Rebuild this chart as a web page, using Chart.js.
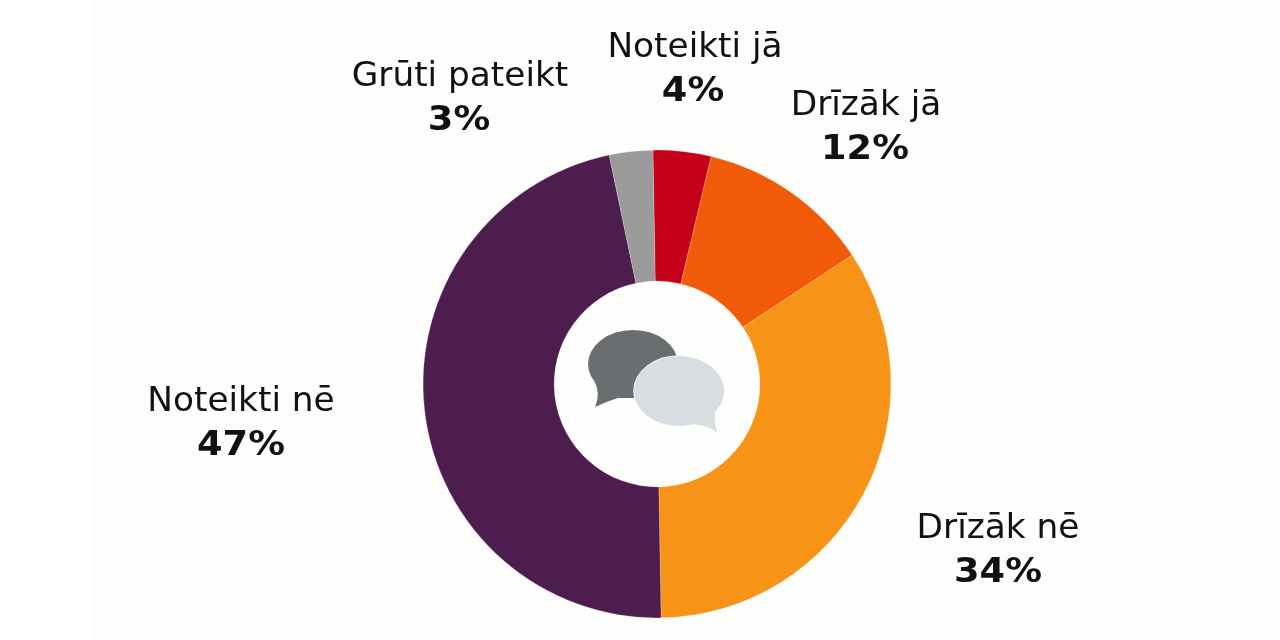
<!DOCTYPE html>
<html>
<head>
<meta charset="utf-8">
<style>
html,body{margin:0;padding:0;background:#fff;}
#wrap{position:relative;width:1280px;height:640px;overflow:hidden;}
#bg{position:absolute;left:93px;top:0;width:1187px;height:640px;background:#fdfdfb;}
canvas{position:absolute;left:0;top:0;filter:blur(0.5px);}
</style>
</head>
<body>
<div id="wrap">
  <div id="bg"></div>
  <canvas id="donut" width="1280" height="640"></canvas>
</div>
<script src="https://cdn.jsdelivr.net/npm/chart.js@4"></script>
<script>
var categories = ['Noteikti jā', 'Drīzāk jā', 'Drīzāk nē', 'Noteikti nē', 'Grūti pateikt'];
var shares = [4, 12, 34, 47, 3];
var sliceColors = ['#c50019', '#f15a08', '#f79316', '#4d1d4d', '#9b9b9b'];

// label centres, x of each line and baseline of the first line
var labelX = [695, 866, 998, 241, 460];
var percentX = [693, 865, 998, 241, 459];
var labelY = [57, 115, 538, 411, 86];

// source text is wider than DejaVu at this height, so stretch it a bit
function stretchedText(ctx, txt, x, y, sx){
  ctx.save();
  ctx.translate(x, y);
  ctx.scale(sx, 1);
  ctx.fillText(txt, 0, 0);
  ctx.restore();
}

var sliceLabels = {
  id: 'sliceLabels',
  afterDraw: function(chart){
    var ctx = chart.ctx;
    ctx.save();
    ctx.textAlign = 'center';
    ctx.textBaseline = 'alphabetic';
    ctx.fillStyle = '#111';
    for(var i = 0; i < categories.length; i++){
      ctx.font = '33px "DejaVu Sans"';
      stretchedText(ctx, categories[i], labelX[i], labelY[i], 1.04);
      ctx.font = 'bold 34px "DejaVu Sans"';
      stretchedText(ctx, shares[i] + '%', percentX[i], labelY[i] + 44, 1.08);
    }
    ctx.restore();
  }
};

// the two speech bubbles in the hole
var bubbles = {
  id: 'bubbles',
  afterDraw: function(chart){
    var ctx = chart.ctx;
    ctx.save();
    ctx.fillStyle = '#6b6e71';
    ctx.beginPath();
    ctx.ellipse(633, 364, 45, 34, 0, 0, Math.PI * 2);
    ctx.fill();
    ctx.beginPath();
    ctx.moveTo(594, 380);
    ctx.quadraticCurveTo(601, 394, 595, 407);
    ctx.quadraticCurveTo(608, 401, 618, 398);
    ctx.lineTo(640, 398);
    ctx.lineTo(640, 380);
    ctx.closePath();
    ctx.fill();
    ctx.fillStyle = '#d8dde2';
    ctx.strokeStyle = '#fdfdfb';
    ctx.lineWidth = 1.5;
    ctx.beginPath();
    ctx.ellipse(679, 391, 45, 35, 0, 0, Math.PI * 2);
    ctx.stroke();
    ctx.fill();
    ctx.beginPath();
    ctx.moveTo(716, 408);
    ctx.quadraticCurveTo(713, 420, 717, 432);
    ctx.quadraticCurveTo(705, 424, 688, 424);
    ctx.closePath();
    ctx.fill();
    ctx.restore();
  }
};

new Chart(document.getElementById('donut').getContext('2d'), {
  type: 'doughnut',
  data: {
    labels: categories,
    datasets: [{
      data: shares,
      backgroundColor: sliceColors,
      borderColor: '#fdfdfb',
      borderWidth: 0.2
    }]
  },
  options: {
    responsive: false,
    animation: false,
    rotation: -1,
    cutout: '44%',
    layout: {padding: {top: 150, bottom: 22, left: 423, right: 389}},
    plugins: {legend: {display: false}, tooltip: {enabled: false}}
  },
  plugins: [bubbles, sliceLabels]
});
</script>
</body>
</html>
